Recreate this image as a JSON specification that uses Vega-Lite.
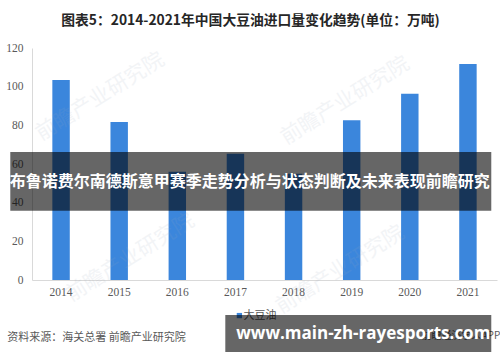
{
  "$schema": "https://vega.github.io/schema/vega-lite/v6.json",
  "width": 465,
  "height": 232,
  "autosize": "none",
  "padding": {"left": 32, "top": 48, "right": 3, "bottom": 82},
  "background": "white",
  "title": {
    "text": "图表5：2014-2021年中国大豆油进口量变化趋势(单位：万吨)",
    "font": "Noto Sans CJK SC",
    "fontSize": 13.8,
    "fontWeight": "bold",
    "color": "#262626",
    "anchor": "middle",
    "dx": -14,
    "offset": 14
  },
  "config": {"view": {"stroke": null}},
  "resolve": {"scale": {"x": "independent", "y": "independent"}},
  "layer": [
    {
      "data": {
        "values": [
          {"year": "2014", "value": 103.4, "series": "大豆油"},
          {"year": "2015", "value": 81.7, "series": "大豆油"},
          {"year": "2016", "value": 56.0, "series": "大豆油"},
          {"year": "2017", "value": 65.3, "series": "大豆油"},
          {"year": "2018", "value": 54.9, "series": "大豆油"},
          {"year": "2019", "value": 82.6, "series": "大豆油"},
          {"year": "2020", "value": 96.3, "series": "大豆油"},
          {"year": "2021", "value": 111.7, "series": "大豆油"}
        ]
      },
      "mark": {"type": "bar", "color": "#3b86dc"},
      "encoding": {
        "x": {
          "field": "year",
          "type": "ordinal",
          "scale": {"paddingInner": 0.7, "paddingOuter": 0.35},
          "axis": {
            "title": null,
            "labelAngle": 0,
            "ticks": false,
            "domainColor": "#d9d9d9",
            "labelPadding": 6,
            "labelFont": "Liberation Serif",
            "labelFontSize": 11.5,
            "labelColor": "#595959"
          }
        },
        "y": {
          "field": "value",
          "type": "quantitative",
          "scale": {"domain": [0, 120], "nice": false},
          "axis": {
            "title": null,
            "values": [0, 20, 40, 60, 80, 100, 120],
            "ticks": false,
            "grid": false,
            "domainColor": "#d9d9d9",
            "labelPadding": 9,
            "labelFont": "Liberation Serif",
            "labelFontSize": 11.5,
            "labelColor": "#595959"
          }
        }
      }
    },
    {
      "data": {"values": [{}]},
      "layer": [
        {
          "mark": {"type": "text", "align": "center", "baseline": "middle", "angle": 328, "font": "Noto Sans CJK SC", "fontSize": 21, "color": "#9aa8bc", "opacity": 0.12},
          "encoding": {
            "x": {"datum": 14.69, "type": "quantitative", "scale": {"domain": [0, 100], "nice": false, "zero": false}, "axis": null},
            "y": {"datum": 94.66, "type": "quantitative", "scale": {"domain": [0, 120], "nice": false}, "axis": null},
            "text": {"value": "前瞻产业研究院"}
          }
        },
        {
          "mark": {"type": "text", "align": "center", "baseline": "middle", "angle": 328, "font": "Noto Sans CJK SC", "fontSize": 21, "color": "#9aa8bc", "opacity": 0.12},
          "encoding": {
            "x": {"datum": 67.38, "type": "quantitative"},
            "y": {"datum": 92.59, "type": "quantitative"},
            "text": {"value": "前瞻产业研究院"}
          }
        },
        {
          "mark": {"type": "text", "align": "center", "baseline": "middle", "angle": 328, "font": "Noto Sans CJK SC", "fontSize": 21, "color": "#9aa8bc", "opacity": 0.12},
          "encoding": {
            "x": {"datum": 21.14, "type": "quantitative"},
            "y": {"datum": 11.38, "type": "quantitative"},
            "text": {"value": "前瞻产业研究院"}
          }
        },
        {
          "mark": {"type": "text", "align": "center", "baseline": "middle", "angle": 328, "font": "Noto Sans CJK SC", "fontSize": 21, "color": "#9aa8bc", "opacity": 0.12},
          "encoding": {
            "x": {"datum": 66.3, "type": "quantitative"},
            "y": {"datum": 5.17, "type": "quantitative"},
            "text": {"value": "前瞻产业研究院"}
          }
        },
        {
          "mark": {"type": "text", "align": "left", "baseline": "middle", "font": "Noto Sans CJK SC", "fontSize": 11, "color": "#595959"},
          "encoding": {
            "x": {"datum": -5.31, "type": "quantitative"},
            "y": {"datum": -30, "type": "quantitative"},
            "text": {"value": "资料来源：海关总署 前瞻产业研究院"}
          }
        },
        {
          "mark": {"type": "square", "size": 28, "color": "#3b86dc", "opacity": 1},
          "encoding": {
            "x": {"datum": 44.6, "type": "quantitative"},
            "y": {"datum": -18.4, "type": "quantitative"}
          }
        },
        {
          "mark": {"type": "text", "align": "left", "baseline": "middle", "font": "Noto Sans CJK SC", "fontSize": 11, "color": "#595959"},
          "encoding": {
            "x": {"datum": 45.5, "type": "quantitative"},
            "y": {"datum": -18.4, "type": "quantitative"},
            "text": {"value": "大豆油"}
          }
        },
        {
          "mark": {"type": "text", "align": "right", "baseline": "middle", "font": "Noto Sans CJK SC", "fontSize": 10, "color": "#595959"},
          "encoding": {
            "x": {"datum": 100.7, "type": "quantitative"},
            "y": {"datum": -28.8, "type": "quantitative"},
            "text": {"value": "前瞻经济学人APP"}
          }
        },
        {
          "mark": {"type": "rect", "color": "black", "opacity": 0.6},
          "encoding": {
            "x": {"datum": -4.67, "type": "quantitative"},
            "x2": {"datum": 98.77},
            "y": {"datum": 66.2, "type": "quantitative"},
            "y2": {"datum": 35.8}
          }
        },
        {
          "mark": {"type": "text", "align": "center", "baseline": "middle", "font": "Noto Sans CJK SC", "fontSize": 16, "fontWeight": "bold", "color": "white"},
          "encoding": {
            "x": {"datum": 46.84, "type": "quantitative"},
            "y": {"datum": 50.7, "type": "quantitative"},
            "text": {"value": "布鲁诺费尔南德斯意甲赛季走势分析与状态判断及未来表现前瞻研究"}
          }
        },
        {
          "mark": {"type": "rect", "color": "black", "opacity": 0.6},
          "encoding": {
            "x": {"datum": 41.57, "type": "quantitative"},
            "x2": {"datum": 98.77},
            "y": {"datum": -18.1, "type": "quantitative"},
            "y2": {"datum": -37.2}
          }
        },
        {
          "mark": {"type": "text", "align": "left", "baseline": "middle", "font": "Open Sans", "fontSize": 17, "fontWeight": "bold", "color": "white"},
          "encoding": {
            "x": {"datum": 43.94, "type": "quantitative"},
            "y": {"datum": -27.9, "type": "quantitative"},
            "text": {"value": "www.main-zh-rayesports.com"}
          }
        }
      ]
    }
  ]
}
